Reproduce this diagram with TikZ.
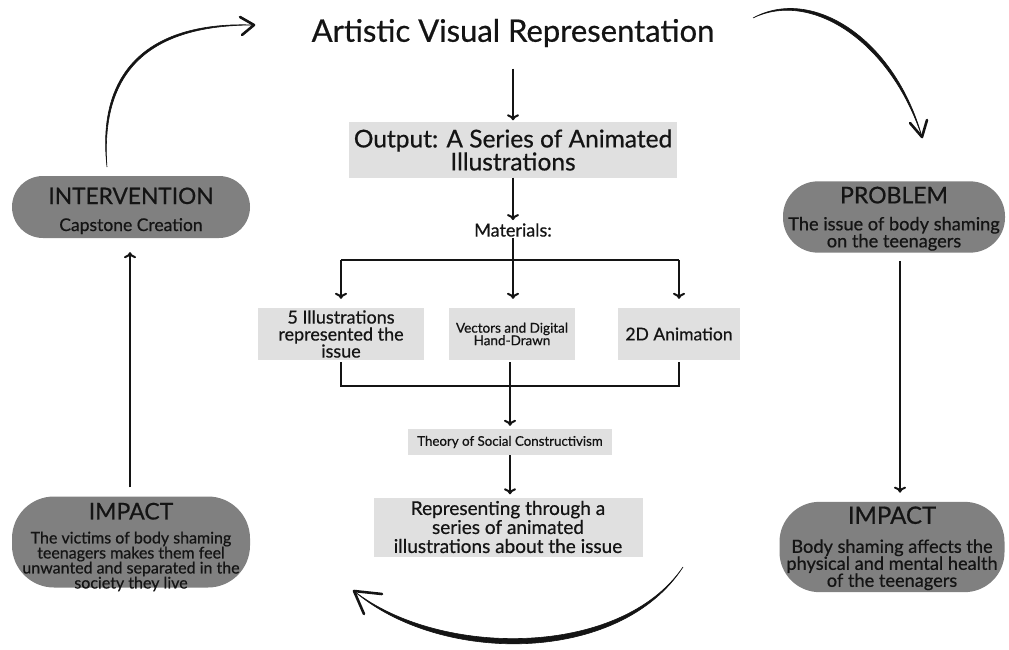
\documentclass[tikz,border=0pt]{standalone}
\usepackage{fontspec}
\setmainfont{Lato}[FakeBold=0.6]
\usetikzlibrary{arrows.meta}
\definecolor{boxgray}{RGB}{224,224,224}
\definecolor{pillgray}{RGB}{128,128,128}
\definecolor{ink}{RGB}{20,20,20}
\newcommand{\fs}[2]{\fontsize{#1}{#2}\selectfont\lineskiplimit=-30pt\lineskip=0pt\relax}
\tikzset{
  lbox/.style={fill=boxgray, draw=none, align=center, inner sep=2pt, text=ink},
  pill/.style={fill=pillgray, draw=none, align=center, inner sep=2pt, text=ink},
  conn/.style={draw=ink, line width=2pt},
  arr/.style={conn, -{To[length=6pt,width=12pt,line width=2pt]}},
  brush/.style={fill=ink, draw=ink, line width=0.6pt, line join=round},
  barb/.style={draw=ink, line width=2.6pt, line cap=round, line join=round},
}
\begin{document}
\begin{tikzpicture}[x=1pt,y=-1pt]
\useasboundingbox (0,0) rectangle (1009,650);
% central column
\node[text=ink, font=\fs{31}{33}] (title) at (513,33) {Artistic Visual Representation};
\node[lbox, minimum width=328pt, minimum height=55pt, font=\fs{24.5}{23}] (out) at (513,150) {Output: A Series of Animated\\Illustrations};
\node[text=ink, font=\fs{18}{18}, inner sep=1pt] (mat) at (513,230) {Materials:};
\coordinate (j1) at (513,260);
\node[lbox, minimum width=166pt, minimum height=52pt, font=\fs{18}{17}] (b1) at (341,334) {5 Illustrations\\represented the\\issue};
\node[lbox, minimum width=126pt, minimum height=52pt, font=\fs{13.5}{12.5}] (b2) at (512,334) {Vectors and Digital\\Hand-Drawn};
\node[lbox, minimum width=122pt, minimum height=52pt, font=\fs{17.5}{17}] (b3) at (679,334) {2D Animation};
\coordinate (j2) at (510,386);
\node[lbox, minimum width=204pt, minimum height=26pt, font=\fs{13.3}{13}] (theory) at (510,442) {Theory of Social Constructivism};
\node[lbox, minimum width=269pt, minimum height=59pt, font=\fs{19}{19}] (rep) at (508,527) {Representing through a\\series of animated\\illustrations about the issue};

\draw[arr, shorten <=18pt, shorten >=2pt] (title.south) -- (out.north);
\draw[arr, shorten >=2pt] (out.south) -- (mat.north);
\draw[conn] (mat.south) -- (j1);
\draw[conn] (b1.north |- j1) -- (b3.north |- j1);
\draw[arr, shorten >=9pt] (b1.north |- j1) -- (b1.north);
\draw[arr, shorten >=9pt] (j1) -- (b2.north -| j1);
\draw[arr, shorten >=9pt] (b3.north |- j1) -- (b3.north);
\draw[conn, shorten <=2pt] (b1.south) |- (j2);
\draw[conn, shorten <=2pt] (b3.south) |- (j2);
\draw[conn, shorten <=2pt] (b2.south -| j2) -- (j2);
\draw[arr, shorten >=3pt] (j2) -- (theory.north);
\draw[arr, shorten >=3pt] (theory.south) -- (rep.north -| theory.south);

% side pills
\node[pill, minimum width=238pt, minimum height=62pt, rounded corners=31pt, font=\fs{17.5}{17}] (interv) at (131,207)
  {{\fs{22.7}{17}\rule{0pt}{24pt}INTERVENTION}\\[10pt]Capstone Creation};
\node[pill, minimum width=238pt, minimum height=91pt, rounded corners=42pt] (impL) at (131,542) {};
\node[text=ink, align=center, inner sep=0pt, font=\fs{16}{15}] (impLtext) at (131,547)
  {{\fs{23}{15}IMPACT}\\[9pt]The victims of body shaming\\teenagers makes them feel\\unwanted and separated in the\\society they live};
\node[pill, minimum width=222pt, minimum height=70pt, rounded corners=35pt, font=\fs{18.2}{17}] (prob) at (894,217)
  {{\fs{23}{17}\rule{0pt}{20pt}PROBLEM}\\[10pt]The issue of body shaming\\on the teenagers};
\node[pill, minimum width=225pt, minimum height=85pt, rounded corners=40pt, font=\fs{18.2}{17}] (impR) at (892,547)
  {{\fs{24}{17}\rule{0pt}{20pt}IMPACT}\\[12pt]Body shaming affects the\\physical and mental health\\of the teenagers};

\draw[arr, shorten <=8pt, shorten >=9pt] (prob.south -| 900,0) -- (impR.north -| 900,0);
\draw[arr, shorten <=9pt, shorten >=14pt] (impL.north -| 130,0) -- (interv.south -| 130,0);

% brush curves
\coordinate (tlS) at (107,167);
\coordinate (tlE) at (254,25);
\fill[brush] (tlS) .. controls (100,70) and (150,25) .. (tlE)
  .. controls (150,21) and (96,70) .. (tlS);
\draw[barb] (240,17) -- (tlE) -- (242,35);

\coordinate (trS) at (753,18);
\coordinate (trE) at (922,137);
\fill[brush] (trS) .. controls (810,-10) and (890,40) .. (trE)
  .. controls (894,37) and (811,-14) .. (trS);
\draw[barb] (910,123) -- (trE) -- (927,120);

\coordinate (bS) at (683,567);
\coordinate (bE) at (354,591);
\fill[brush] (bS) .. controls (620,665) and (440,665) .. (bE)
  .. controls (440,658) and (621,658) .. (bS);
\draw[barb] (382,594) -- (bE) -- (364,614);
\end{tikzpicture}
\end{document}
